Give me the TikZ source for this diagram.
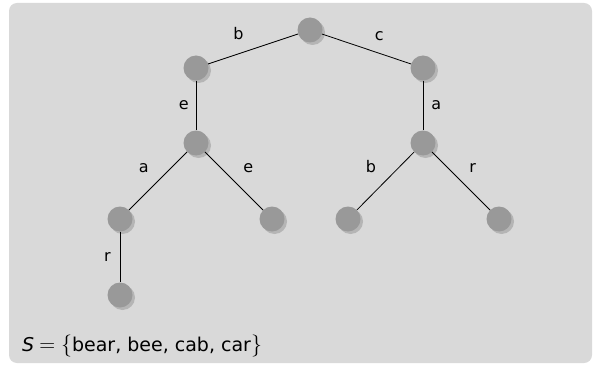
\documentclass[tikz,border=0pt]{standalone}
\usepackage{fontspec}
\setsansfont{DejaVu Sans}
\usepackage{tikz}
\usetikzlibrary{positioning, shadows}
\definecolor{bgcol}{HTML}{D9D9D9}
\definecolor{nodecol}{HTML}{999999}
\definecolor{shadecol}{HTML}{B5B5B5}
\tikzstyle{vertex} = [circle, minimum size=25pt, inner sep=0pt, fill=nodecol, drop shadow={shadow xshift=2.5pt, shadow yshift=-2.5pt, fill=shadecol, opacity=1}]
\tikzstyle{link} = [line width=0.8pt, black]
\tikzstyle{lab} = [font=\sffamily\fontsize{16}{19}\selectfont, inner sep=3pt]
\newcommand{\mrm}[1]{{\rmfamily\fontsize{22}{26}\selectfont #1}}

\begin{document}
\begin{tikzpicture}[x=1pt, y=-1pt, on grid]
        \useasboundingbox (0,0) rectangle (593,366);
        \fill [bgcol, rounded corners=8pt] (9,3) rectangle (592,363);

        \node (root) [vertex] at (310,30) {};
        \node (b) [vertex, below left=38pt and 114pt of root] {};
        \node (c) [vertex, below right=38pt and 113pt of root] {};
        \node (be) [vertex, below=75pt of b] {};
        \node (ca) [vertex, below=75pt of c] {};
        \node (bea) [vertex, below left=76pt and 76pt of be] {};
        \node (bee) [vertex, below right=76pt and 76pt of be] {};
        \node (cab) [vertex, below left=76pt and 75pt of ca] {};
        \node (car) [vertex, below right=76pt and 76pt of ca] {};
        \node (bear) [vertex, below=76pt of bea] {};

        \draw [link] (root) -- node [lab, above left=6pt and 6pt] {b} (b);
        \draw [link] (root) -- node [lab, above right=5pt and 5pt] {c} (c);
        \draw [link] (b) -- node [lab, left=4pt] {e} (be);
        \draw [link] (c) -- node [lab, right=5pt] {a} (ca);
        \draw [link] (be) -- node [lab, above left=5pt and 6pt] {a} (bea);
        \draw [link] (be) -- node [lab, above right=5pt and 6pt] {e} (bee);
        \draw [link] (ca) -- node [lab, above left=5pt and 6pt] {b} (cab);
        \draw [link] (ca) -- node [lab, above right=5pt and 5pt] {r} (car);
        \draw [link] (bea) -- node [lab, left=6pt] {r} (bear);

        \node (set) [anchor=base west, inner sep=0pt, font=\sffamily\fontsize{19}{23}\selectfont] at (22,351) {\textit{S}\hspace{5pt}\mrm{=}\hspace{6pt}\mrm{\{}bear, bee, cab, car\mrm{\}}};
    \end{tikzpicture}
\end{document}
